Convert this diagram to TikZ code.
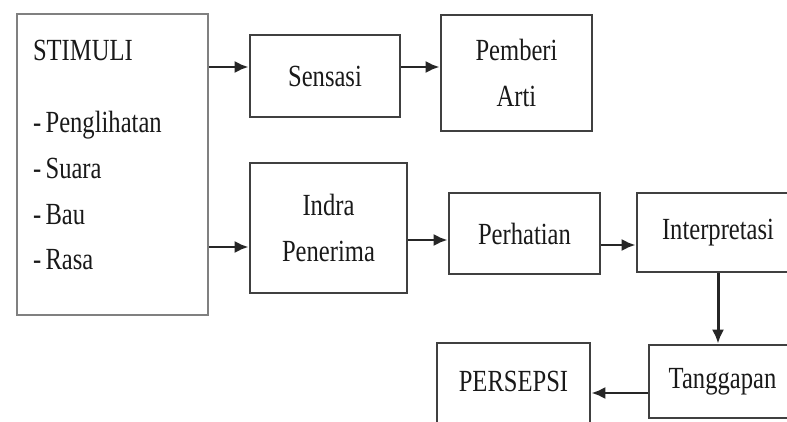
\documentclass[tikz,border=0pt]{standalone}
\usepackage{fontspec}
\setmainfont{Liberation Serif}[FakeStretch=0.8]
\usepackage{xcolor}
\usepackage{tikz}
\usetikzlibrary{arrows.meta}

\begin{document}
\begin{tikzpicture}[x=0.02cm,y=-0.02cm]
\useasboundingbox (0,0) rectangle (787,422);
\clip (0,0) rectangle (787,422);
\begin{scope}[every node/.style={draw=black!75,line width=1.6pt,text=black!90,
              font=\fontsize{17.5}{26}\selectfont,align=center,inner sep=0pt}]
    \node (stim) at (112.5,164.5) [draw=black!50,minimum width=3.82cm,minimum height=6.02cm,
          text width=3.18cm,align=left,text height=0.4cm,text depth=4.58cm]
          {\spaceskip=2.5pt\relax STIMULI\\[15.5pt]- Penglihatan\\- Suara\\- Bau\\- Rasa};
    \node (sens) at (325,76) [minimum width=3cm,minimum height=1.64cm] {Sensasi};
    \node (pemb) at (516.5,73) [minimum width=3.02cm,minimum height=2.32cm] {Pemberi\\Arti};
    \node (indr) at (328.5,228) [minimum width=3.14cm,minimum height=2.6cm] {Indra\\Penerima};
    \node (perh) at (524.5,233.5) [minimum width=3.02cm,minimum height=1.62cm] {Perhatian};
    \node (intp) at (718,232.5) [minimum width=3.24cm,minimum height=1.58cm] {Interpretasi};
    \node (tang) at (722.5,381.5) [minimum width=2.94cm,minimum height=1.46cm] {Tanggapan};
    \node (pers) at (513.5,391.5) [minimum width=3.06cm,minimum height=1.94cm,
          text height=0.44cm,text depth=0.46cm] {PERSEPSI};
\end{scope}
% rows of the arrows
\coordinate (r1) at (0,67);
\coordinate (r2) at (0,247);
\coordinate (r3) at (0,240);
\coordinate (r4) at (0,245);
\coordinate (r5) at (0,393);
\begin{scope}[>={Latex[length=8pt,width=7pt]},
              every edge/.style={draw=black!85,line width=1.7pt}]
    \path [->] (stim.east |- r1) edge (sens.west |- r1);
    \path [->] (sens.east |- r1) edge (pemb.west |- r1);
    \path [->] (stim.east |- r2) edge (indr.west |- r2);
    \path [->] (indr.east |- r3) edge (perh.west |- r3);
    \path [->] (perh.east |- r4) edge (intp.west |- r4);
    \path [->] (intp.south) edge (intp.south |- tang.north);
    \path [->] (tang.west |- r5) edge (pers.east |- r5);
\end{scope}
\end{tikzpicture}
\end{document}
